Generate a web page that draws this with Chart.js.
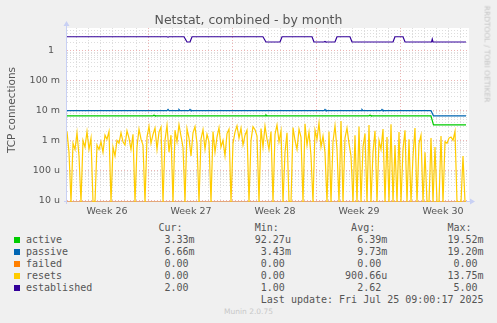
<!DOCTYPE html>
<html>
<head>
<meta charset="utf-8">
<title>Netstat, combined - by month</title>
<script src="https://cdn.jsdelivr.net/npm/chart.js@4.4.1/dist/chart.umd.min.js"></script>
<style>
  html, body { margin: 0; padding: 0; background: #f0f0f0; }
  body { width: 497px; height: 323px; position: relative; overflow: hidden;
         font-family: "DejaVu Sans", sans-serif; color: #555; }
  #chartBox { position: absolute; left: 0; top: 0; width: 497px; height: 220px; }
  .title { position: absolute; left: 0; width: 497px; top: 12px; text-align: center;
           font-size: 12.5px; line-height: 16px; }
  .ytitle { position: absolute; left: 11px; top: 110px; transform: translate(-50%, -50%) rotate(-90deg);
            font-size: 10.5px; white-space: nowrap; }
  .credit { position: absolute; left: 487px; top: 54px; transform: translate(-50%, -50%) rotate(90deg);
            font-size: 7.5px; color: #c4c4c4; white-space: nowrap; }
  #legend { position: absolute; left: 26px; top: 221.5px; margin: 0;
            font: 10px/12px "DejaVu Sans Mono", monospace; color: #555; }
  .swatch { position: absolute; left: 14px; width: 6px; height: 6px; }
  .munin { position: absolute; left: 0; width: 497px; top: 307px; text-align: center;
           font-size: 7.5px; line-height: 10px; color: #c8c8c8; }
</style>
</head>
<body>
<div id="chartBox"><canvas id="chart" width="497" height="220"></canvas></div>
<div class="title">Netstat, combined - by month</div>
<div class="ytitle">TCP connections</div>
<div class="credit">RRDTOOL / TOBI OETIKER</div>
<pre id="legend"></pre>
<div id="swatches"></div>
<div class="munin">Munin 2.0.75</div>

<script>
/* ---------- data ---------- */
// x values are days from the left edge of the graph
const X_SPAN_DAYS = 33.5;
const FIRST_DAY_LINE = 0.83;   // midnight
const FIRST_WEEK_LINE = 6.83;  // Monday 00:00, week 27
const WEEK_LABELS = ["Week 26", "Week 27", "Week 28", "Week 29", "Week 30"];
const WEEK_MID_DAYS = [3.33, 10.33, 17.33, 24.33, 31.33];

const Y_MIN = 8.6e-6;
const Y_MAX = 5.9;
const Y_DECADES = [1e-5, 1e-4, 1e-3, 1e-2, 1e-1, 1];
const Y_LABELS = ["10 u", "100 u", "1 m", "10 m", "100 m", "1  "];

const SERIES = ["active", "passive", "failed", "resets", "established"];
const COLORS = ["#00cc00", "#0066b3", "#ff8000", "#ffcc00", "#330099"];
const CUR = ["3.33m", "6.66m", "0.00", "0.00", "2.00"];
const MIN = ["92.27u", "3.43m", "0.00", "0.00", "1.00"];
const AVG = ["6.39m", "9.73m", "0.00", "900.66u", "2.62"];
const MAX = ["19.52m", "19.20m", "0.00", "13.75m", "5.00"];
const LAST_UPDATE = "Last update: Fri Jul 25 09:00:17 2025";

// active / passive in milli-connections, (day, value) points
const ACTIVE_DAYS = [0, 7.17, 7.25, 7.33, 16.5, 16.58, 16.67, 25.17, 25.25, 25.33, 30.33, 30.54, 33.25];
const ACTIVE_M    = [6.67, 6.67, 7.1, 6.67, 6.67, 7.1, 6.67, 6.67, 7.1, 6.67, 6.67, 3.33, 3.33];

const PASSIVE_DAYS = [0, 8.33, 8.42, 8.5, 9.25, 9.33, 9.42, 10.17, 10.25, 10.33,
                      21.42, 21.5, 21.58, 24.5, 24.58, 24.67, 26.17, 26.25, 26.33, 30.33, 30.54, 33.25];
const PASSIVE_M    = [10, 10, 10.9, 10, 10, 10.9, 10, 10, 10.9, 10,
                      10, 10.9, 10, 10, 10.9, 10, 10, 10.9, 10, 10, 6.66, 6.66];

const FAILED_DAYS = [0, 33.25];
const FAILED_M    = [0, 0];

const ESTAB_DAYS = [0, 8.33, 8.42, 8.5, 9.75, 10.0, 10.25, 10.42, 16.33, 16.58, 17.75, 17.92,
                    20.42, 20.58, 21.42, 21.5, 21.58, 22.33, 22.5, 23.58, 23.75, 27.17, 27.33,
                    28.0, 28.17, 30.38, 30.44, 30.5, 33.25];
const ESTAB      = [3, 3, 2.9, 3, 3, 2, 2, 3, 3, 2, 2, 3,
                    3, 2, 2, 2.1, 2, 2, 3, 3, 2, 2, 3,
                    3, 2, 2, 2.5, 2, 2];

// resets, one sample every 4 hours, milli-connections
const RESETS_STEP_DAYS = 1 / 6;
const RESETS_M = [
  2.0, 0.4, 0, 0.8, 0.5, 1.8, 0.3, 0, 1.0, 0.6,
  2.0, 0.5, 1.2, 0, 0, 0.7, 0.5, 0.9, 0.4, 1.5,
  1.1, 2.0, 0, 0.6, 0.3, 1.0, 0.8, 1.8, 0.9, 0.7,
  2.1, 1.2, 0.5, 1.6, 0, 0.6, 2.4, 1.1, 0.7, 0,
  1.3, 3.0, 0.8, 1.6, 2.6, 0.5, 1.9, 2.8, 0, 1.0,
  3.2, 0.4, 1.5, 0, 2.2, 0.9, 3.4, 1.4, 0.6, 0,
  2.5, 1.2, 0.3, 1.8, 2.9, 0.8, 0, 1.1, 2.3, 0.5,
  1.6, 0.9, 0, 2.0, 0.4, 1.3, 2.7, 0.6, 1.0, 0.3,
  1.7, 2.4, 0, 0.8, 1.9, 3.1, 1.2, 2.6, 0.7, 1.5,
  2.2, 0, 1.0, 2.9, 2.3, 1.4, 0, 2.5, 0.6, 3.0,
  1.1, 0.5, 2.0, 0, 1.6, 3.3, 0.9, 2.1, 0, 0.4,
  1.8, 0, 0, 2.7, 1.0, 0.5, 2.4, 1.3, 0, 3.6,
  0.7, 1.9, 0.3, 0, 2.2, 1.1, 3.8, 0.6, 1.4, 0.4,
  0, 2.0, 0, 0.9, 3.1, 0.5, 0, 4.5, 0, 1.2,
  2.6, 0.8, 0.3, 0, 1.5, 0, 2.9, 0, 0.6, 1.7,
  0, 3.3, 0, 0.4, 2.1, 0, 1.0, 0.5, 2.4, 0,
  1.3, 0, 3.5, 0, 0.7, 0, 1.9, 0, 0.5, 2.2,
  0, 1.1, 0, 0.3, 2.6, 0, 0.8, 1.5, 0, 0.4,
  0, 0, 1.2, 0, 0.6, 0, 0, 1.4, 0, 0.9,
  0.8, 1.2, 1.3, 1.0, 2.0, 0, 0, 0, 0.3, 0
];

/* ---------- styling ---------- */
const MAJOR_GRID = "#ecb4b4";
const MINOR_GRID = "#dddddd";
const AXIS_COLOR = "#c8d0f4";
const TEXT = "#555";

/* ---------- legend ---------- */
function withUnit(s) { return /\d$/.test(s) ? s + " " : s; }

function buildLegend() {
  const lines = ["Cur:".padStart(26) + "Min:".padStart(16) + "Avg:".padStart(16) + "Max:".padStart(16)];
  const box = document.getElementById("swatches");
  SERIES.forEach((name, i) => {
    lines.push(name.padEnd(21) + withUnit(CUR[i]).padStart(7) + withUnit(MIN[i]).padStart(16) +
               withUnit(AVG[i]).padStart(16) + withUnit(MAX[i]).padStart(16));
    const sw = document.createElement("div");
    sw.className = "swatch";
    sw.style.top = (237 + 12 * i) + "px";
    sw.style.background = COLORS[i];
    box.appendChild(sw);
  });
  lines.push(LAST_UPDATE.padStart(76));
  document.getElementById("legend").textContent = lines.join("\n");
}

/* ---------- chart ---------- */
// rrdtool puts zero at the floor of a log axis
const floorZero = (v) => (v === 0 ? Y_MIN : v);
const points = (days, vals, scale) => days.map((d, i) => ({ x: d, y: floorZero(vals[i] * scale) }));
const near = (a, b) => Math.abs(a - b) < 1e-6;

function isDecade(v) { const l = Math.log10(v); return Math.abs(l - Math.round(l)) < 1e-6; }
function isWeekMid(v) { return WEEK_MID_DAYS.some((m) => near(m, v)); }
function isWeekLine(v) { const k = (v - FIRST_WEEK_LINE) / 7; return near(k, Math.round(k)); }

const resetDays = RESETS_M.map((_, i) => i * RESETS_STEP_DAYS);

const bgPlugin = {
  id: "canvasBg",
  beforeDraw(chart) {
    const { ctx, chartArea: a } = chart;
    ctx.save();
    ctx.fillStyle = "#fff";
    ctx.fillRect(a.left, a.top, a.right - a.left, a.bottom - a.top);
    ctx.restore();
  },
};

const axisPlugin = {
  id: "axisDecor",
  beforeDatasetsDraw(chart) {
    const { ctx, chartArea: a } = chart;
    ctx.save();
    ctx.strokeStyle = AXIS_COLOR; ctx.fillStyle = AXIS_COLOR; ctx.lineWidth = 1;
    ctx.beginPath();
    ctx.moveTo(a.left - 0.5, a.bottom + 2); ctx.lineTo(a.left - 0.5, a.top - 3);
    ctx.moveTo(a.left - 3, a.bottom - 0.5); ctx.lineTo(a.right + 2, a.bottom - 0.5);
    ctx.stroke();
    ctx.beginPath();
    ctx.moveTo(a.left - 3.5, a.top - 2); ctx.lineTo(a.left + 2.5, a.top - 2); ctx.lineTo(a.left - 0.5, a.top - 7);
    ctx.closePath(); ctx.fill();
    ctx.beginPath();
    ctx.moveTo(a.right + 1, a.bottom - 3.5); ctx.lineTo(a.right + 1, a.bottom + 2.5); ctx.lineTo(a.right + 6, a.bottom - 0.5);
    ctx.closePath(); ctx.fill();
    ctx.restore();
  },
};

function line(label, data, color, order) {
  return { label, data, borderColor: color, backgroundColor: color, borderWidth: 1.2,
           pointRadius: 0, tension: 0, clip: 0, order };
}

function draw() {
  new Chart(document.getElementById("chart"), {
    type: "line",
    data: {
      datasets: [
        line(SERIES[0], points(ACTIVE_DAYS, ACTIVE_M, 1e-3), COLORS[0], 5),
        line(SERIES[1], points(PASSIVE_DAYS, PASSIVE_M, 1e-3), COLORS[1], 4),
        line(SERIES[2], points(FAILED_DAYS, FAILED_M, 1e-3), COLORS[2], 3),
        line(SERIES[3], points(resetDays, RESETS_M, 1e-3), COLORS[3], 2),
        line(SERIES[4], points(ESTAB_DAYS, ESTAB, 1), COLORS[4], 1),
      ],
    },
    options: {
      responsive: false,
      animation: false,
      layout: { padding: { top: 28, right: 28, left: 0, bottom: 0 } },
      plugins: { legend: { display: false }, tooltip: { enabled: false } },
      scales: {
        x: {
          type: "linear", min: 0, max: X_SPAN_DAYS,
          afterBuildTicks(s) {
            const t = [];
            for (let d = FIRST_DAY_LINE; d < X_SPAN_DAYS; d += 1) t.push({ value: d });
            WEEK_MID_DAYS.forEach((m) => t.push({ value: m }));
            s.ticks = t;
          },
          afterFit(s) { s.height = 18; },
          grid: {
            drawTicks: false,
            color: (c) => (isWeekMid(c.tick.value) ? "rgba(0,0,0,0)" : isWeekLine(c.tick.value) ? MAJOR_GRID : MINOR_GRID),
          },
          border: { display: false, dash: [1, 2] },
          ticks: {
            autoSkip: false, maxRotation: 0, padding: 4, color: TEXT,
            font: { family: "DejaVu Sans", size: 9.5 },
            callback: (v) => { const i = WEEK_MID_DAYS.findIndex((m) => near(m, v)); return i < 0 ? "" : WEEK_LABELS[i]; },
          },
        },
        y: {
          type: "logarithmic", min: Y_MIN, max: Y_MAX,
          afterBuildTicks(s) {
            const t = [];
            Y_DECADES.forEach((d) => { for (let m = 1; m <= 9; m++) if (d * m <= Y_MAX) t.push({ value: d * m }); });
            s.ticks = t;
          },
          afterFit(s) { s.width = 67; },
          grid: {
            drawTicks: false,
            color: (c) => (isDecade(c.tick.value) ? MAJOR_GRID : MINOR_GRID),
          },
          border: { display: false, dash: [1, 2] },
          ticks: {
            autoSkip: false, padding: 7, color: TEXT,
            font: { family: "DejaVu Sans", size: 9.5 },
            callback: (v) => { const i = Y_DECADES.findIndex((d) => Math.abs(Math.log10(d) - Math.log10(v)) < 1e-6); return i < 0 ? "" : Y_LABELS[i]; },
          },
        },
      },
    },
    plugins: [bgPlugin, axisPlugin],
  });
}

buildLegend();
draw();
</script>
</body>
</html>
